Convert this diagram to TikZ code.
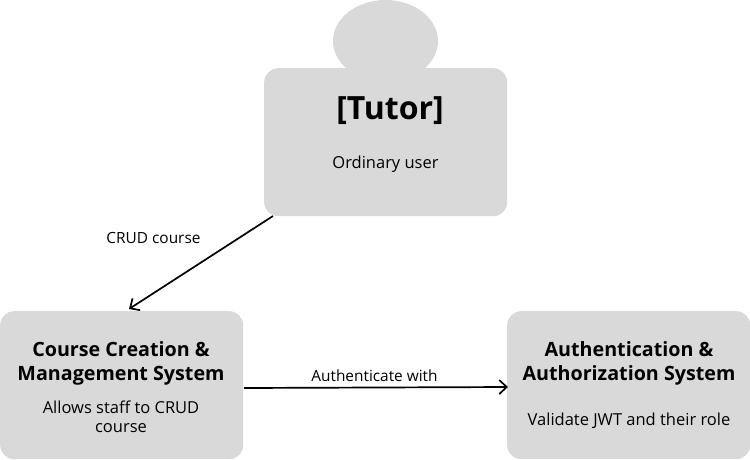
\documentclass[tikz,border=0pt]{standalone}
\usepackage{fontspec}
\setmainfont{Open Sans}
\usetikzlibrary{arrows.meta}
\definecolor{boxg}{HTML}{D9D9D9}
\tikzset{
 box/.style={fill=boxg,draw=none,rounded corners=14pt,inner sep=0pt,minimum width=#1,anchor=north west},
 conn/.style={draw=black,line width=1.7pt,-{Straight Barb[length=7.5pt,width=14pt,line width=1.7pt]}},
 lab/.style={font=\fontsize{15.4pt}{19pt}\selectfont,text=black,align=center,inner sep=0pt},
 dsc/.style={font=\fontsize{16.5pt}{19pt}\selectfont,text=black,align=center,inner sep=0pt},
 ttl/.style={font=\fontsize{19.7pt}{24pt}\selectfont\bfseries,text=black,align=center,inner sep=0pt},
}
\begin{document}
\begin{tikzpicture}[x=1pt,y=-1pt]
\useasboundingbox (0,0) rectangle (750,459);
\fill[boxg] (385.5,41) ellipse [x radius=52.5,y radius=41];
\node[box=243pt,minimum height=148pt] (tutor) at (264,68) {};
\node[box=243pt,minimum height=148pt] (course) at (0,311) {};
\node[box=243pt,minimum height=148pt] (auth) at (507,311) {};
\node[font=\fontsize{32pt}{36pt}\selectfont\bfseries,inner sep=0pt] (t1) at (390,111) {[Tutor]};
\node[dsc] (t2) at (385.5,164) {Ordinary user};
\node[ttl] (c1) at (121,363) {Course Creation \&\\Management System};
\node[dsc] (c2) at (121,417) {Allows staff to CRUD\\course};
\node[ttl] (a1) at (629,363) {Authentication \&\\Authorization System};
\node[dsc] (a2) at (629,420.5) {Validate JWT and their role};
\coordinate (s1) at (273,216);
\coordinate (e1) at (129,309);
\coordinate (s2) at (244,388);
\coordinate (e2) at (508,387);
\draw[conn] (s1) -- (e1);
\draw[conn] (s2) -- (e2);
\node[lab] (l1) at (153.5,238) {CRUD course};
\node[lab] (l2) at (374.5,376) {Authenticate with};
\end{tikzpicture}
\end{document}
